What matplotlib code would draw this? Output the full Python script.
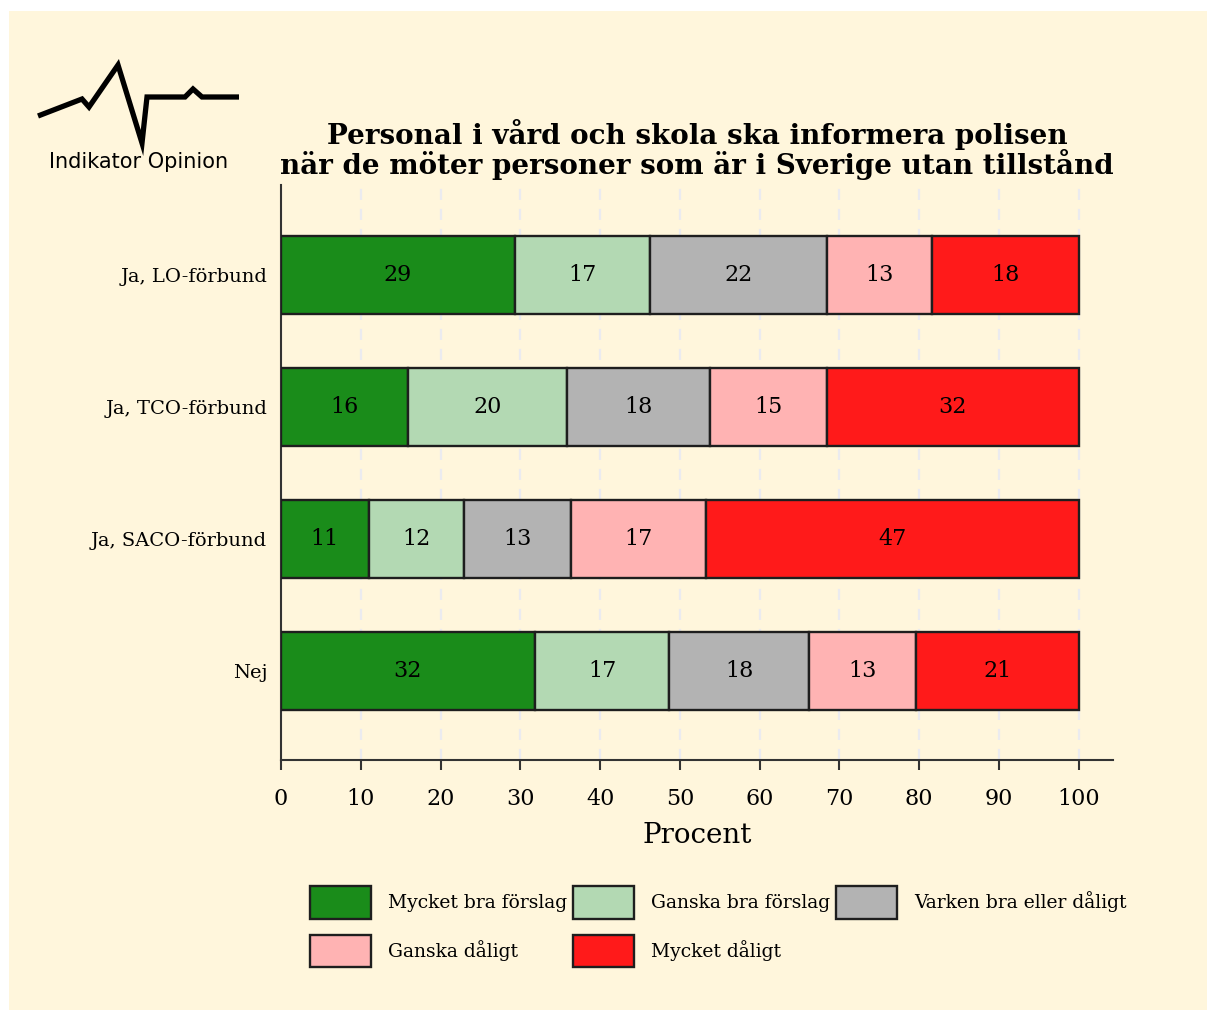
import matplotlib
matplotlib.use("Agg")
import matplotlib.pyplot as plt
from matplotlib.patches import Rectangle, Patch
import numpy as np

# ---------------- data ----------------
categories = ["Ja, LO-förbund", "Ja, TCO-förbund", "Ja, SACO-förbund", "Nej"]
series_names = ["Mycket bra förslag", "Ganska bra förslag", "Varken bra eller dåligt",
                "Ganska dåligt", "Mycket dåligt"]
# shares (percent) per category
mycket_bra = [29.3, 15.9, 11.0, 31.8]
ganska_bra = [16.9, 20.0, 11.9, 16.9]
varken = [22.3, 17.9, 13.4, 17.5]
ganska_daligt = [13.1, 14.6, 17.0, 13.4]
mycket_daligt = [18.4, 31.6, 46.7, 20.4]
# printed (rounded) labels
labels_mycket_bra = [29, 16, 11, 32]
labels_ganska_bra = [17, 20, 12, 17]
labels_varken = [22, 18, 13, 18]
labels_ganska_daligt = [13, 15, 17, 13]
labels_mycket_daligt = [18, 32, 47, 21]
x_ticks = [0, 10, 20, 30, 40, 50, 60, 70, 80, 90, 100]
title = "Personal i vård och skola ska informera polisen\nnär de möter personer som är i Sverige utan tillstånd"
x_label = "Procent"
logo_text = "Indikator Opinion"

colors = ["#1a8c1a", "#b3d9b3", "#b3b3b3", "#ffb3b3", "#ff1a1a"]
cream = "#fff6dc"
edge = "#1e1e1e"

W, H = 1207, 1010
plt.rcParams["font.family"] = ["DejaVu Serif"]
fig = plt.figure(figsize=(W / 100, H / 100), dpi=100)
fig.patch.set_facecolor("white")

# background / logo layer (pixel coordinates)
bg = fig.add_axes([0, 0, 1, 1], zorder=0)
bg.set_xlim(0, W)
bg.set_ylim(H, 0)
bg.axis("off")
bg.add_patch(Rectangle((9, 11), W, H, facecolor=cream, edgecolor="none"))
logo_x = [38, 82, 89, 118, 142, 147, 185, 193, 202, 239]
logo_y = [116, 99, 107, 65, 143, 97, 97, 89, 97, 97]
bg.plot(logo_x, logo_y, color="black", lw=3.8, solid_joinstyle="miter", solid_capstyle="butt")
bg.text(139, 168, logo_text, ha="center", va="baseline", fontsize=15,
        family=["DejaVu Sans"], color="black")

# main axes
left, right, top, bottom = 281, 1113, 185, 760
ax = fig.add_axes([left / W, 1 - bottom / H, (right - left) / W, (bottom - top) / H], zorder=1)
ax.set_facecolor("none")

series = [mycket_bra, ganska_bra, varken, ganska_daligt, mycket_daligt]
series_labels = [labels_mycket_bra, labels_ganska_bra, labels_varken,
                 labels_ganska_daligt, labels_mycket_daligt]
ypos = np.arange(len(categories))[::-1]
cum = np.zeros(len(categories))
for vals, labs, col, name in zip(series, series_labels, colors, series_names):
    vals = np.array(vals)
    bars = ax.barh(ypos, vals, left=cum, height=0.585, color=col, edgecolor=edge,
                   linewidth=1.7, label=name, zorder=3)
    for b, lab in zip(bars, labs):
        ax.text(b.get_x() + b.get_width() / 2, b.get_y() + b.get_height() / 2, str(lab),
                ha="center", va="center", fontsize=16, color="black", zorder=4)
    cum += vals

ax.set_xlim(0, 104.3)
ax.set_ylim(-0.674, 3.682)
ax.set_xticks(x_ticks)
ax.set_xticklabels([str(t) for t in x_ticks])
ax.set_yticks(ypos)
ax.set_yticklabels(categories)
ax.tick_params(axis="x", direction="out", length=7, width=1.5, color="#333333",
               labelsize=16, pad=13)
ax.tick_params(axis="y", length=0, labelsize=14, pad=10)
for s in ["top", "right"]:
    ax.spines[s].set_visible(False)
for s in ["left", "bottom"]:
    ax.spines[s].set_linewidth(1.5)
    ax.spines[s].set_color("#333333")
ax.xaxis.grid(True, color="#ebebef", linewidth=1.6, linestyle=(0, (5, 4)), zorder=0)
ax.set_axisbelow(True)
ax.set_xlabel(x_label, fontsize=20, labelpad=9)
ax.set_title(title, fontsize=20, fontweight="bold", linespacing=0.95, pad=8)

handles = [Patch(facecolor=c, edgecolor=edge, linewidth=1.7) for c in colors]
order = [0, 3, 1, 4, 2]
leg = fig.legend([handles[i] for i in order], [series_names[i] for i in order],
                 ncol=3, loc="upper left", bbox_to_anchor=(310 / W, 1 - 886 / H),
                 frameon=False, fontsize=13.5, handlelength=3.25, handleheight=2.3,
                 handletextpad=0.9, columnspacing=0.32, labelspacing=0.85, borderpad=0,
                 borderaxespad=0)

fig.savefig("out.png", dpi=100)
